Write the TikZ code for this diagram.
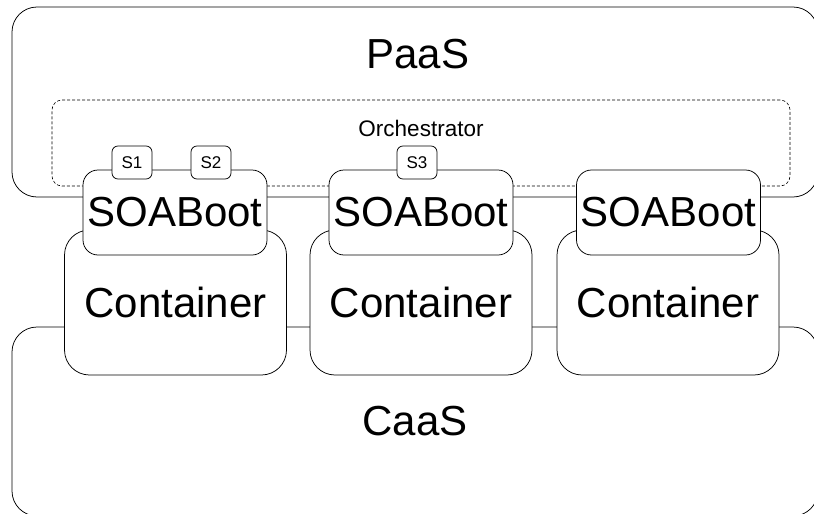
\documentclass[tikz,border=0pt]{standalone}
\usepackage{fontspec}
\setmainfont{Liberation Sans}
\tikzset{
  layer/.style={draw,line width=0.75pt,rounded corners=25pt,inner sep=0pt},
  boxc/.style={draw,fill=white,line width=0.75pt,rounded corners=25pt,inner sep=0pt,minimum width=222pt,minimum height=145pt,font=\fontsize{42}{50}\selectfont},
  boxsoa/.style={draw,fill=white,line width=0.75pt,rounded corners=15pt,inner sep=0pt,minimum width=184pt,minimum height=85pt,font=\fontsize{42}{50}\selectfont},
  svc/.style={draw,fill=white,line width=0.75pt,rounded corners=6pt,inner sep=0pt,minimum width=40pt,minimum height=33pt,font=\fontsize{17}{20}\selectfont}
}
\begin{document}
\begin{tikzpicture}[x=1pt,y=-1pt]
		\useasboundingbox (0,0) rectangle (814,514);
		\node[layer,minimum width=806pt,minimum height=190pt] (paas) at (415,102) {};
		\node[font=\fontsize{42}{50}\selectfont] (paastext) at (418,54) {PaaS};
		\node[layer,minimum width=806pt,minimum height=189pt,font=\fontsize{42}{50}\selectfont] (caas) at (415,421.5) {CaaS};
		\node[draw,line width=0.6pt,dash pattern=on 3pt off 2pt,rounded corners=10pt,minimum width=738pt,minimum height=86pt] (orch) at (421,143) {};
		\node[font=\fontsize{22.5}{27}\selectfont] (orchtext) at (421,128.5) {Orchestrator};
		\node[boxc] (cont1) at (175.5,302.5) {Container};
		\node[boxc] (cont2) at (421,302.5) {Container};
		\node[boxc] (cont3) at (668,302.5) {Container};
		\node[boxsoa] (soa1) at (175,212.5) {SOABoot};
		\node[boxsoa] (soa2) at (421,212.5) {SOABoot};
		\node[boxsoa] (soa3) at (668.5,212.5) {SOABoot};
		\node[svc] (s1) at (132,162.5) {S1};
		\node[svc] (s2) at (211,162.5) {S2};
		\node[svc] (s3) at (417,162.5) {S3};
		\end{tikzpicture}
\end{document}
